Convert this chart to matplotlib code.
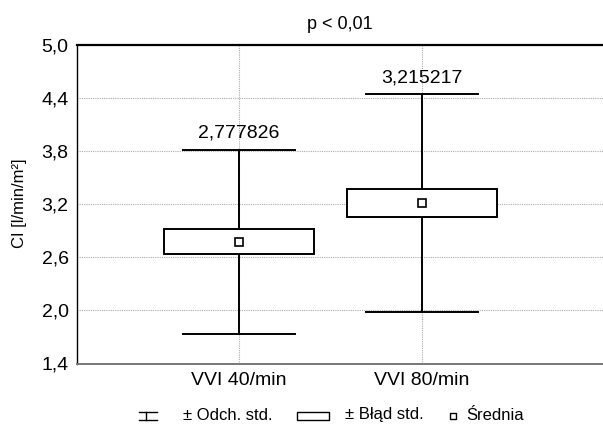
import matplotlib
matplotlib.use("Agg")
import matplotlib.pyplot as plt
from matplotlib.patches import Rectangle
from matplotlib.lines import Line2D

plt.rcParams['font.family'] = ['Liberation Sans', 'DejaVu Sans']

categories = ['VVI 40/min', 'VVI 80/min']
means = [2.777826, 3.215217]
std_err = [0.14, 0.16]
std_dev = [1.04, 1.23]
mean_labels = ['2,777826', '3,215217']
yticks = [1.4, 2.0, 2.6, 3.2, 3.8, 4.4, 5.0]
ytick_labels = ['1,4', '2,0', '2,6', '3,2', '3,8', '4,4', '5,0']

W, H = 603, 429
fig = plt.figure(figsize=(W / 100, H / 100), dpi=100)
ax = fig.add_axes([77 / W, 1 - 363.5 / H, (603 - 77) / W, (363.5 - 45.3) / H])

xs = [1, 2]
box_hw = 0.41
cap_hw = 0.305
for x, m, se, sd, lab in zip(xs, means, std_err, std_dev, mean_labels):
    ax.plot([x, x], [m - sd, m - se], color='black', lw=1.4, zorder=3)
    ax.plot([x, x], [m + se, m + sd], color='black', lw=1.4, zorder=3)
    ax.plot([x - cap_hw, x + cap_hw], [m - sd, m - sd], color='black', lw=1.4, zorder=3)
    ax.plot([x - cap_hw, x + cap_hw], [m + sd, m + sd], color='black', lw=1.4, zorder=3)
    ax.add_patch(Rectangle((x - box_hw, m - se), 2 * box_hw, 2 * se,
                           facecolor='white', edgecolor='black', lw=1.4, zorder=3))
    ax.plot([x], [m], marker='s', ms=6, mfc='white', mec='black', mew=1.2, zorder=4)
    ax.annotate(lab, (x, m + sd), xytext=(0, 6), textcoords='offset points',
                ha='center', va='bottom', fontsize=14)

ax.set_xlim(0.115, 2.99)
ax.set_ylim(1.4, 5.0)
ax.set_yticks(yticks)
ax.set_yticklabels(ytick_labels, fontsize=14)
ax.set_xticks(xs)
ax.set_xticklabels(categories, fontsize=14)
ax.tick_params(length=0, pad=6)
ax.grid(True, color='#aaaaaa', linestyle=(0, (1, 1)), lw=0.8)
ax.set_axisbelow(True)
ax.spines['top'].set_linewidth(1.6)
ax.spines['left'].set_linewidth(1.0)
ax.spines['bottom'].set_color('#777777')
ax.spines['bottom'].set_linewidth(1.4)
ax.spines['right'].set_visible(False)

ax.set_title('p < 0,01', fontsize=13, pad=12)
fig.text(20 / W, 1 - 203 / H, 'CI [l/min/m²]', fontsize=12, rotation=90,
         ha='center', va='center')

# legend
def fx(px):
    return px / W

def fy(py):
    return 1 - py / H

tf = fig.transFigure
yt, yb = 412, 419.5
fig.add_artist(Line2D([fx(139), fx(157)], [fy(yt), fy(yt)], color='black', lw=1, transform=tf))
fig.add_artist(Line2D([fx(139), fx(157)], [fy(yb), fy(yb)], color='black', lw=1, transform=tf))
fig.add_artist(Line2D([fx(146), fx(146)], [fy(yt), fy(yb)], color='black', lw=1, transform=tf))
fig.text(fx(183), fy(419.5), '± Odch. std.', fontsize=12, ha='left', va='baseline')
fig.add_artist(Rectangle((fx(297), fy(yb)), fx(329) - fx(297), fy(yt) - fy(yb),
                         facecolor='white', edgecolor='black', lw=1, transform=tf))
fig.text(fx(345), fy(419.5), '± Błąd std.', fontsize=12, ha='left', va='baseline')
fig.add_artist(Line2D([fx(453)], [fy(415.5)], marker='s', ms=5, mfc='white', mec='black',
                      mew=1, transform=tf))
fig.text(fx(466), fy(419.5), 'Średnia', fontsize=12, ha='left', va='baseline')

fig.savefig('out.png', dpi=100)
